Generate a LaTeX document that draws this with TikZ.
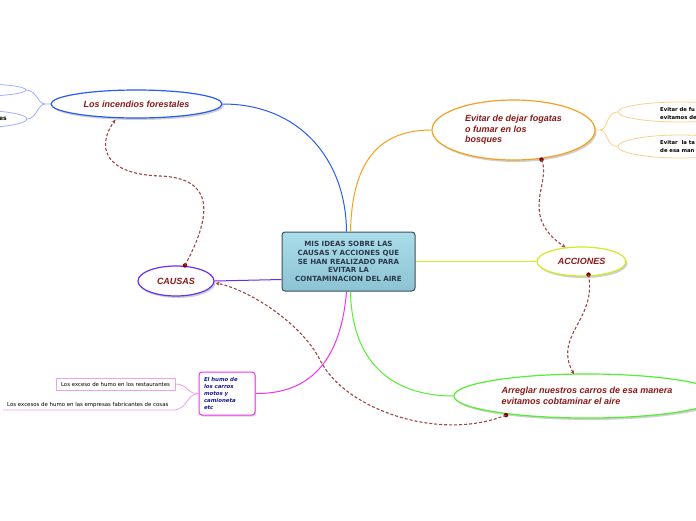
\documentclass[tikz,border=0pt]{standalone}
\usepackage{fontspec}
\setmainfont{Liberation Sans}
\newfontfamily\vfont{DejaVu Sans}
\usetikzlibrary{shapes.geometric,shadows,arrows.meta,calc}
\definecolor{titlered}{HTML}{8B1A1A}
\definecolor{cblue}{HTML}{2A5CF0}
\definecolor{cblueL}{HTML}{9FB0FF}
\definecolor{corange}{HTML}{F5A020}
\definecolor{corangeL}{HTML}{FCD08A}
\definecolor{cyg}{HTML}{CCEE22}
\definecolor{cgreen}{HTML}{55EE33}
\definecolor{cpurple}{HTML}{6A2FF0}
\definecolor{cmag}{HTML}{EE33EE}
\definecolor{cmagL}{HTML}{F0A0F0}
\definecolor{rel}{HTML}{A04545}
\definecolor{reldot}{HTML}{800000}
\definecolor{boxtop}{HTML}{ABDDEA}
\definecolor{boxbot}{HTML}{8CC3D3}
\definecolor{boxborder}{HTML}{3D4F5C}
\definecolor{boxtext}{HTML}{2A3A4A}
\definecolor{humotext}{HTML}{1A1A8B}
\begin{document}
\begin{tikzpicture}[x=1pt,y=-1pt,
  mainell/.style={ellipse, draw, line width=1.2pt, fill=white, inner sep=0pt,
    drop shadow={shadow xshift=1.5pt,shadow yshift=-2pt,opacity=0.3,fill=black!60},
    font=\fontsize{9}{10.5}\selectfont\bfseries\itshape, text=titlered},
  subell/.style={ellipse, draw, line width=0.8pt, fill=white, inner sep=0pt},
  smalltxt/.style={font=\vfont\fontsize{5.3}{7.5}\selectfont\bfseries, text=black, inner sep=0pt},
  conn/.style={line width=1pt},
  relation/.style={rel, line width=1.1pt, dash pattern=on 3pt off 2pt, -{Stealth[length=4pt,width=4pt]}},
  reldotsty/.style={circle, fill=reldot, inner sep=0pt, minimum size=4.5pt}
]
\useasboundingbox (0,0) rectangle (696,520);
\clip (0,0) rectangle (696,520);
\fill[white] (0,0) rectangle (696,520);

% central node
\node[draw=boxborder, line width=1pt, rounded corners=3pt, top color=boxtop, bottom color=boxbot,
  minimum width=133pt, minimum height=59pt, inner sep=0pt, align=center,
  font=\vfont\fontsize{7.1}{8.7}\selectfont\bfseries, text=boxtext] (c) at (348.5,261.5)
  {MIS IDEAS SOBRE LAS\\CAUSAS Y ACCIONES QUE\\SE HAN REALIZADO PARA\\EVITAR LA\\CONTAMINACION DEL AIRE};

% main ellipses
\node[mainell, draw=cblue, minimum width=171pt, minimum height=28pt] (inc) at (136.5,104) {Los incendios forestales};
\node[mainell, draw=corange, minimum width=163pt, minimum height=60pt, align=left] (ev) at (513.5,130)
  {Evitar de dejar fogatas\\o fumar en los\\bosques};
\node[mainell, draw=cyg, minimum width=89pt, minimum height=29pt] (acc) at (581.5,261.5) {ACCIONES};
\node[mainell, draw=cgreen, minimum width=266pt, minimum height=44pt, align=left] (arr) at (587,396)
  {Arreglar nuestros carros de esa manera\\evitamos cobtaminar el aire};
\node[mainell, draw=cpurple, minimum width=76pt, minimum height=30pt] (causas) at (176,281) {CAUSAS};

% humo box
\node[draw=cmag, line width=1pt, rounded corners=3pt, fill=white, minimum width=56pt, minimum height=43pt,
  text width=46pt, align=left, inner sep=0pt,
  drop shadow={shadow xshift=1pt,shadow yshift=-1.5pt,opacity=0.25,fill=black!60},
  font=\vfont\fontsize{5.4}{6.9}\selectfont\bfseries\itshape, text=humotext] (humo) at (227,393.5)
  {El humo de\\los carros\\motos y\\camioneta\\etc};

% left sub items of humo
\node[draw=cmagL, line width=0.8pt, fill=white, minimum width=119pt, minimum height=12pt, inner sep=0pt,
  font=\vfont\fontsize{5.4}{7}\selectfont] (rest) at (115.5,384) {Los exceso de humo en los restaurantes};
\node[font=\vfont\fontsize{5.4}{7}\selectfont, inner xsep=4pt, inner ysep=0pt, minimum height=9pt, anchor=south west] (emp) at (3,410)
  {Los excesos de humo en las empresas fabricantes de cosas};

% sub ellipses of incendios (left, cut)
\node[subell, draw=cblueL, minimum width=112pt, minimum height=13pt] (incA) at (-30,90) {};
\node[subell, draw=cblueL, minimum width=114pt, minimum height=18pt] (incB) at (-30,119) {};
\node[anchor=east, font=\vfont\fontsize{6}{7}\selectfont\bfseries, inner sep=0pt] (incBt) at (7,118.5) {es};

% sub ellipses of evitar (right, cut)
\node[subell, draw=corangeL, minimum width=124pt, minimum height=20pt] (evA) at (680,112) {};
\node[subell, draw=corangeL, minimum width=124pt, minimum height=23pt] (evB) at (680,146.5) {};
\node[smalltxt, anchor=west, align=left] (evAt) at (660,113.5) {Evitar de fu\\evitamos de};
\node[smalltxt, anchor=west, align=left] (evBt) at (660,146.5) {Evitar\ \ la ta\\de esa man};

% main connectors
\draw[conn, cblue] ([xshift=-2pt]c.north) .. controls (346,160) and (300,104) .. (inc.east);
\draw[conn, corange] ([xshift=2pt]c.north) .. controls (352,160) and (380,130) .. (ev.west);
\draw[conn, cyg] (c.east) -- (acc.west);
\draw[conn, cgreen] ([xshift=2pt]c.south) .. controls (352,370) and (400,396) .. (arr.west);
\draw[conn, cmag] ([xshift=-2pt]c.south) .. controls (340,372) and (300,394) .. (humo.east);
\draw[conn, cpurple] ([yshift=-18pt]c.west) -- (causas.east);

% sub connectors
\draw[line width=0.8pt, cblueL] (inc.west) -- (45,104) .. controls (38,104) and (36,90) .. (incA.east);
\draw[line width=0.8pt, cblueL] (45,104) .. controls (38,104) and (36,119) .. (incB.east);
\draw[line width=0.8pt, corangeL] (ev.east) -- (600,130) .. controls (608,130) and (606,112) .. (evA.west);
\draw[line width=0.8pt, corangeL] (600,130) .. controls (608,130) and (606,146.5) .. (evB.west);
\draw[line width=0.8pt, cmagL] (humo.west) .. controls (186,394) and (188,384) .. (rest.east);
\draw[line width=0.8pt, cmagL] (humo.west) .. controls (186,394) and (188,410) .. (emp.south east) -- (emp.south west);

% relations
\node[reldotsty] (d1) at ([xshift=9pt]causas.north) {};
\node[reldotsty] (d2) at ([xshift=28pt,yshift=1pt]ev.south) {};
\node[reldotsty] (d3) at ([xshift=7pt,yshift=2pt]acc.south) {};
\node[reldotsty] (d4) at ([xshift=-81pt,yshift=3.5pt]arr.south) {};
\coordinate (m1) at (160,176);
\coordinate (m4) at (320,360);
\draw[relation] (d1.center) .. controls (212,215) and (215,178) .. (m1) .. controls (102,174) and (97,145) .. ([xshift=-21pt,yshift=-1pt]inc.south);
\draw[relation] (d2.center) .. controls (552,182) and (518,215) .. ([xshift=-16pt,yshift=-1pt]acc.north);
\draw[relation] (d3.center) .. controls (597,320) and (553,335) .. ([xshift=-13pt,yshift=-1pt]arr.north);
\draw[relation] (d4.center) .. controls (440,442) and (345,410) .. (m4) .. controls (302,324) and (250,290) .. ([xshift=1pt,yshift=-2pt]causas.east);
\end{tikzpicture}
\end{document}
